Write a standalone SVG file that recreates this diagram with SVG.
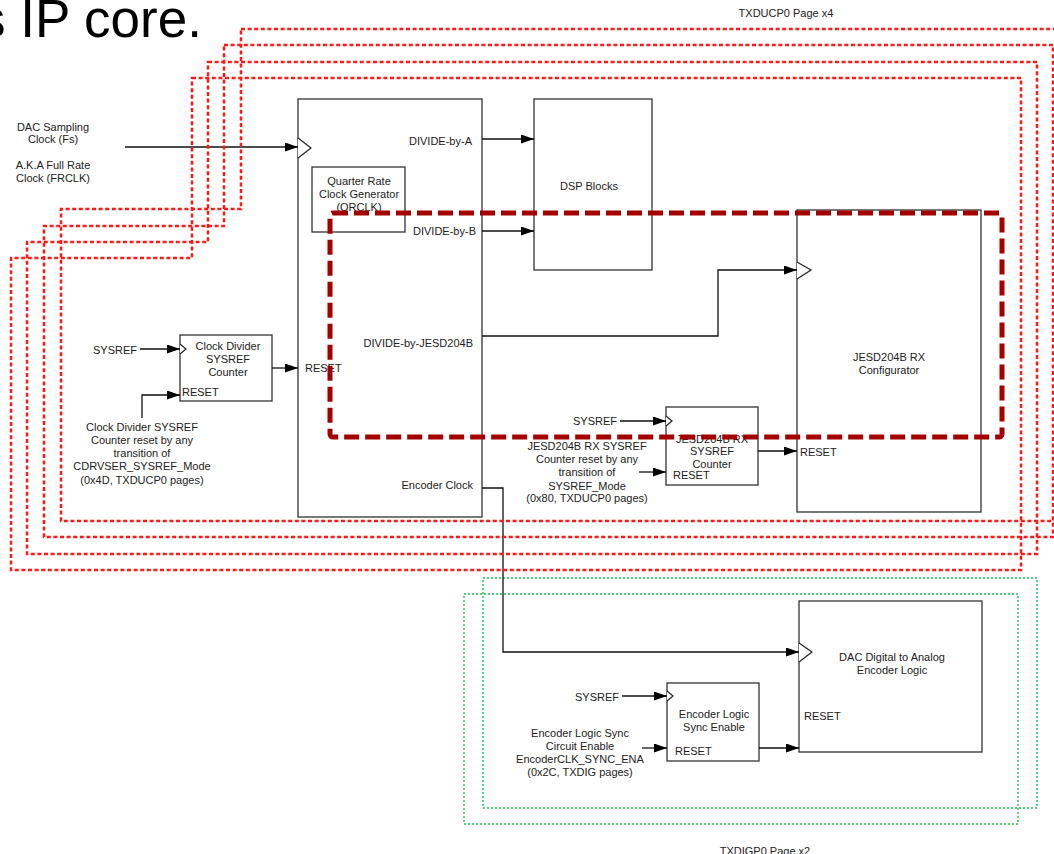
<svg xmlns="http://www.w3.org/2000/svg" width="1054" height="854" viewBox="0 0 1054 854">
<style>
  text { font-family: "Liberation Sans", Arial, sans-serif; font-size: 11px; fill: #222; }
  .c { text-anchor: middle; }
  .e { text-anchor: end; }
  .box { fill: #fff; stroke: #333; stroke-width: 1.3; }
  .clk { fill: #fff; stroke: #222; stroke-width: 1.2; }
  .wire { fill: none; stroke: #111; stroke-width: 1.3; }
  .page { fill: none; stroke: #ff1a1a; stroke-width: 2.5; stroke-dasharray: 4 2.6; }
  .green { fill: none; stroke: #22c050; stroke-width: 1.4; stroke-dasharray: 2 2; }
  .jesd { fill: none; stroke: #a50000; stroke-width: 5; stroke-dasharray: 15 6; }
</style>
<defs>
  <marker id="arr" markerUnits="userSpaceOnUse" markerWidth="14" markerHeight="10" refX="13" refY="4.5" orient="auto">
    <path d="M0,0 L13,4.5 L0,9 z" fill="#000"/>
  </marker>
</defs>
<rect width="1054" height="854" fill="#fff"/>

<text x="-21" y="37" style="font-size:53px;fill:#000">s IP core.</text>
<text class="c" x="786" y="17">TXDUCP0 Page x4</text>
<text class="c" x="765" y="855">TXDIGP0 Page x2</text>

<g id="txdig-pages">
  <rect class="green" x="483" y="578" width="554" height="230"/>
  <rect class="green" x="464" y="594" width="554" height="230"/>
</g>

<g id="main-divider">
  <rect class="box" x="298" y="99" width="184" height="418"/>
  <path class="clk" d="M298,138 L311,148 L298,158"/>
  <text class="e" x="472" y="145">DIVIDE-by-A</text>
  <text class="e" x="476" y="235">DIVIDE-by-B</text>
  <text class="e" x="473" y="347">DIVIDE-by-JESD204B</text>
  <text x="305" y="372">RESET</text>
  <text class="e" x="473" y="489">Encoder Clock</text>
</g>
<g id="qrclk">
  <rect class="box" x="312" y="167" width="93" height="65"/>
  <text class="c" x="359" y="185">Quarter Rate</text>
  <text class="c" x="359" y="198">Clock Generator</text>
  <text class="c" x="359" y="211">(QRCLK)</text>
</g>
<g id="dsp">
  <rect class="box" x="534" y="99" width="118" height="171"/>
  <text class="c" x="589" y="190">DSP Blocks</text>
</g>
<g id="jesd-config">
  <rect class="box" x="797" y="210" width="184" height="302"/>
  <path class="clk" d="M797,262 L811,270 L797,279"/>
  <text class="c" x="889" y="361">JESD204B RX</text>
  <text class="c" x="889" y="374">Configurator</text>
  <text x="800" y="456">RESET</text>
</g>
<g id="clkdiv-counter">
  <rect class="box" x="180" y="335" width="92" height="66"/>
  <path class="clk" d="M180,344 L186,349 L180,354"/>
  <text class="c" x="228" y="350">Clock Divider</text>
  <text class="c" x="228" y="363">SYSREF</text>
  <text class="c" x="228" y="376">Counter</text>
  <text x="182" y="396">RESET</text>
</g>
<g id="jesd-counter">
  <rect class="box" x="666" y="407" width="92" height="78"/>
  <path class="clk" d="M666,416 L672,421 L666,426"/>
  <text class="c" x="712" y="443">JESD204B RX</text>
  <text class="c" x="712" y="455">SYSREF</text>
  <text class="c" x="712" y="468">Counter</text>
  <text x="673" y="479">RESET</text>
</g>
<g id="dac-encoder">
  <rect class="box" x="799" y="601" width="183" height="151"/>
  <path class="clk" d="M799,643 L812,652 L799,662"/>
  <text class="c" x="892" y="661">DAC Digital to Analog</text>
  <text class="c" x="892" y="674">Encoder Logic</text>
  <text x="804" y="720">RESET</text>
</g>
<g id="enc-sync">
  <rect class="box" x="667" y="683" width="92" height="78"/>
  <path class="clk" d="M667,691 L673,696 L667,701"/>
  <text class="c" x="714" y="718">Encoder Logic</text>
  <text class="c" x="714" y="731">Sync Enable</text>
  <text x="675" y="755">RESET</text>
</g>

<g id="labels">
  <text class="c" x="53" y="131">DAC Sampling</text>
  <text class="c" x="53" y="143">Clock (Fs)</text>
  <text class="c" x="53" y="169">A.K.A Full Rate</text>
  <text class="c" x="53" y="182">Clock (FRCLK)</text>
  <text class="e" x="137" y="354">SYSREF</text>
  <text class="c" x="142" y="431">Clock Divider SYSREF</text>
  <text class="c" x="142" y="444">Counter reset by any</text>
  <text class="c" x="142" y="457">transition of</text>
  <text class="c" x="142" y="470">CDRVSER_SYSREF_Mode</text>
  <text class="c" x="142" y="484">(0x4D, TXDUCP0 pages)</text>
  <text class="e" x="617" y="425">SYSREF</text>
  <text class="c" x="587" y="450">JESD204B RX SYSREF</text>
  <text class="c" x="587" y="463">Counter reset by any</text>
  <text class="c" x="587" y="476">transition of</text>
  <text class="c" x="587" y="490">SYSREF_Mode</text>
  <text class="c" x="587" y="502">(0x80, TXDUCP0 pages)</text>
  <text class="e" x="619" y="701">SYSREF</text>
  <text class="c" x="580" y="737">Encoder Logic Sync</text>
  <text class="c" x="580" y="750">Circuit Enable</text>
  <text class="c" x="580" y="763">EncoderCLK_SYNC_ENA</text>
  <text class="c" x="580" y="776">(0x2C, TXDIG pages)</text>
</g>

<g id="connectors">
  <path class="wire" d="M125,147 H298" marker-end="url(#arr)"/>
  <path class="wire" d="M482,139 H534" marker-end="url(#arr)"/>
  <path class="wire" d="M482,231 H534" marker-end="url(#arr)"/>
  <path class="wire" d="M482,336 H718 V270 H797" marker-end="url(#arr)"/>
  <path class="wire" d="M272,368 H298" marker-end="url(#arr)"/>
  <path class="wire" d="M140,349 H180" marker-end="url(#arr)"/>
  <path class="wire" d="M142,418 V395 H180" marker-end="url(#arr)"/>
  <path class="wire" d="M620,421 H666" marker-end="url(#arr)"/>
  <path class="wire" d="M639,472 H666" marker-end="url(#arr)"/>
  <path class="wire" d="M758,451 H797" marker-end="url(#arr)"/>
  <path class="wire" d="M482,488 H503 V652 H799" marker-end="url(#arr)"/>
  <path class="wire" d="M622,696 H667" marker-end="url(#arr)"/>
  <path class="wire" d="M642,748 H667" marker-end="url(#arr)"/>
  <path class="wire" d="M759,748 H799" marker-end="url(#arr)"/>
</g>

<g id="txducp-pages">
  <path class="page" d="M192,78 H1021 V570 H11 V258 H192 Z"/>
  <path class="page" d="M208,62 H1037 V554 H27 V242 H208 Z"/>
  <path class="page" d="M224,45 H1053 V537 H44 V226 H224 Z"/>
  <path class="page" d="M241,29 H1070 V521 H61 V209 H241 Z"/>
</g>

<g id="jesd-region">
  <rect class="jesd" x="330" y="213" width="672" height="224" rx="3"/>
</g>
</svg>
